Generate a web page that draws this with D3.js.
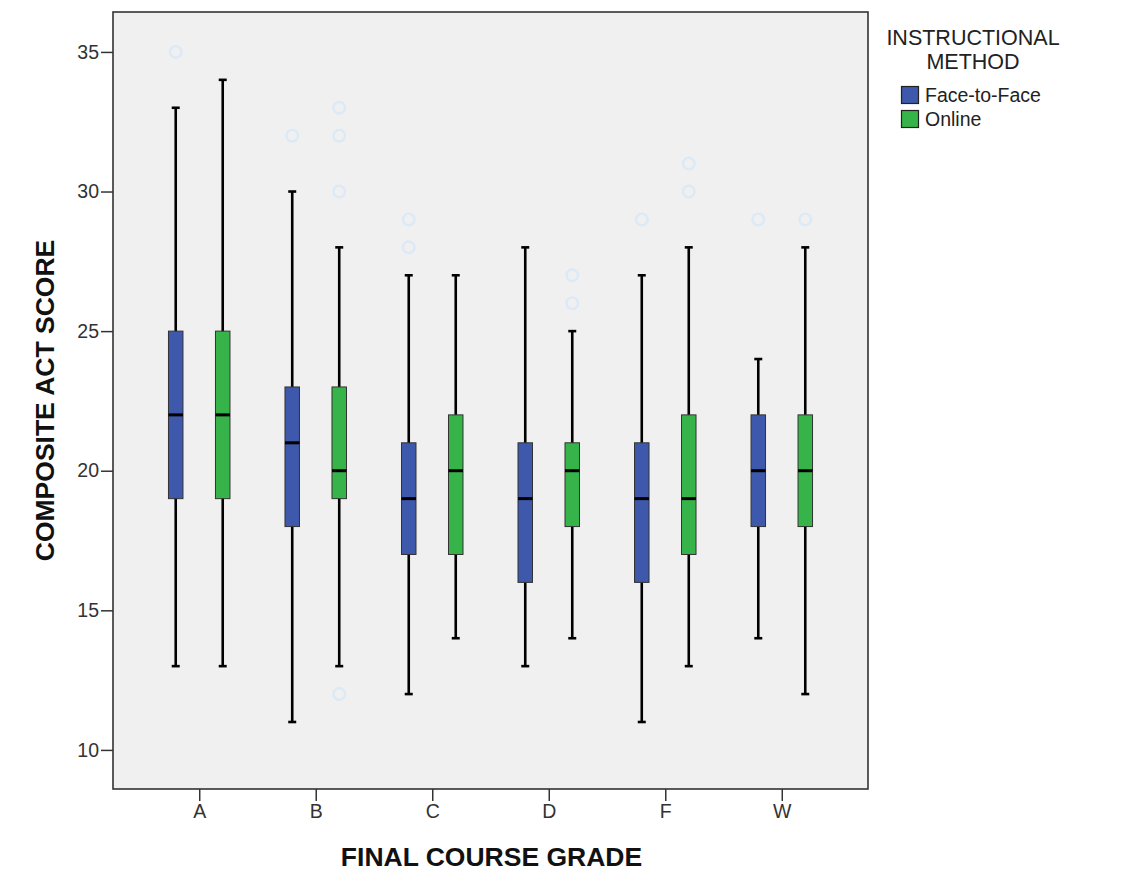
<!DOCTYPE html>
<html>
<head>
<meta charset="utf-8">
<script src="https://cdn.jsdelivr.net/npm/d3@7/dist/d3.min.js"></script>
<style>
  body { margin: 0; background: #fff; }
  svg { display: block; font-family: Arial, "Liberation Sans", sans-serif; }
</style>
</head>
<body>
<svg id="chart"></svg>
<script>
// categories and series
const grades = ['A', 'B', 'C', 'D', 'F', 'W'];
const methods = ['Face-to-Face', 'Online'];
const yTicks = [10, 15, 20, 25, 30, 35];

// [lower whisker, Q1, median, Q3, upper whisker]
const faceStats = [
  [13, 19, 22, 25, 33],
  [11, 18, 21, 23, 30],
  [12, 17, 19, 21, 27],
  [13, 16, 19, 21, 28],
  [11, 16, 19, 21, 27],
  [14, 18, 20, 22, 24]
];
const onlineStats = [
  [13, 19, 22, 25, 34],
  [13, 19, 20, 23, 28],
  [14, 17, 20, 22, 27],
  [14, 18, 20, 21, 25],
  [13, 17, 19, 22, 28],
  [12, 18, 20, 22, 28]
];
const faceOutliers = [[35], [32], [29, 28], [], [29], [29]];
const onlineOutliers = [[], [33, 32, 30, 12], [], [27, 26], [31, 30], [29]];

const colors = ['#3e58ac', '#36b44a'];

class BoxPlot {

  constructor(_config) {
    this.config = {
      parentElement: _config.parentElement,
      containerWidth: _config.containerWidth || 1142,
      containerHeight: _config.containerHeight || 891,
      margin: _config.margin || {top: 12, right: 274, bottom: 102, left: 113}
    }

    // build rows from the named arrays
    this.data = [];
    grades.forEach((g, i) => {
      this.data.push({grade: g, method: methods[0], stats: faceStats[i], outliers: faceOutliers[i]});
      this.data.push({grade: g, method: methods[1], stats: onlineStats[i], outliers: onlineOutliers[i]});
    });

    this.initVis();
  }

  initVis() {
    let vis = this;

    vis.width = vis.config.containerWidth - vis.config.margin.left - vis.config.margin.right;
    vis.height = vis.config.containerHeight - vis.config.margin.top - vis.config.margin.bottom;

    vis.svg = d3.select(vis.config.parentElement)
        .attr('width', vis.config.containerWidth)
        .attr('height', vis.config.containerHeight);

    vis.chart = vis.svg.append('g')
        .attr('transform', `translate(${vis.config.margin.left},${vis.config.margin.top})`);

    vis.xScale = d3.scalePoint()
        .domain(grades)
        .range([0, vis.width])
        .padding(0.74);

    vis.methodScale = d3.scaleBand()
        .domain(methods)
        .range([-47, 47]);

    vis.yScale = d3.scaleLinear()
        .domain([8.6, 36.43])
        .range([vis.height, 0]);

    vis.colorScale = d3.scaleOrdinal()
        .domain(methods)
        .range(colors);

    // plot background
    vis.chart.append('rect')
        .attr('width', vis.width)
        .attr('height', vis.height)
        .attr('fill', '#f0f0f0');

    vis.xAxis = d3.axisBottom(vis.xScale).tickSize(12).tickPadding(3);
    vis.yAxis = d3.axisLeft(vis.yScale).tickValues(yTicks).tickSize(12).tickPadding(2);

    vis.xAxisG = vis.chart.append('g')
        .attr('class', 'axis x-axis')
        .attr('transform', `translate(0,${vis.height})`);

    vis.yAxisG = vis.chart.append('g')
        .attr('class', 'axis y-axis');

    vis.chart.append('text')
        .attr('x', vis.width / 2 + 1)
        .attr('y', 854)
        .attr('font-size', '26.5px')
        .attr('font-weight', 'bold')
        .attr('text-anchor', 'middle')
        .attr('fill', '#111')
        .text('FINAL COURSE GRADE');

    vis.chart.append('text')
        .attr('transform', 'rotate(-90)')
        .attr('x', -vis.height / 2)
        .attr('y', -59)
        .attr('font-size', '26.5px')
        .attr('font-weight', 'bold')
        .attr('text-anchor', 'middle')
        .attr('fill', '#111')
        .text('COMPOSITE ACT SCORE');

    // legend
    vis.legend = vis.svg.append('g')
        .attr('transform', 'translate(973,0)');

    vis.legend.selectAll('.legend-title')
        .data(['INSTRUCTIONAL', 'METHOD'])
        .join('text')
        .attr('class', 'legend-title')
        .attr('x', 0)
        .attr('y', (d, i) => 45 + i * 24)
        .attr('text-anchor', 'middle')
        .attr('font-size', '21.5px')
        .attr('fill', '#222')
        .text(d => d);

    vis.legend.selectAll('.legend-swatch')
        .data(methods)
        .join('rect')
        .attr('class', 'legend-swatch')
        .attr('x', -71.5)
        .attr('y', (d, i) => 86.5 + i * 24)
        .attr('width', 17)
        .attr('height', 17)
        .attr('fill', d => vis.colorScale(d))
        .attr('stroke', '#222')
        .attr('stroke-width', 1.2);

    vis.legend.selectAll('.legend-label')
        .data(methods)
        .join('text')
        .attr('class', 'legend-label')
        .attr('x', -48)
        .attr('y', (d, i) => 102 + i * 24)
        .attr('font-size', '19.5px')
        .attr('fill', '#222')
        .text(d => d);

    vis.updateVis();
  }

  updateVis() {
    let vis = this;

    vis.xAxisG.call(vis.xAxis);
    vis.yAxisG.call(vis.yAxis);

    vis.chart.selectAll('.axis .domain').remove();
    vis.chart.selectAll('.axis line')
        .attr('stroke', '#333')
        .attr('stroke-width', 1.5);
    vis.chart.selectAll('.axis text')
        .attr('font-size', '19.5px')
        .attr('fill', '#333')
        .attr('font-family', 'Arial, "Liberation Sans", sans-serif');

    const cx = d => vis.xScale(d.grade) + vis.methodScale(d.method) + vis.methodScale.bandwidth() / 2;
    const boxW = 14.5;
    const capW = 8;

    const boxes = vis.chart.selectAll('.box')
        .data(vis.data)
        .join('g')
        .attr('class', 'box')
        .attr('transform', d => `translate(${cx(d)},0)`);

    // whiskers
    boxes.append('line')
        .attr('x1', 0).attr('x2', 0)
        .attr('y1', d => vis.yScale(d.stats[0]))
        .attr('y2', d => vis.yScale(d.stats[4]))
        .attr('stroke', '#000')
        .attr('stroke-width', 2.6);

    boxes.selectAll('.cap')
        .data(d => [d.stats[0], d.stats[4]])
        .join('line')
        .attr('class', 'cap')
        .attr('x1', -capW / 2).attr('x2', capW / 2)
        .attr('y1', v => vis.yScale(v))
        .attr('y2', v => vis.yScale(v))
        .attr('stroke', '#000')
        .attr('stroke-width', 2.6);

    boxes.append('rect')
        .attr('x', -boxW / 2)
        .attr('width', boxW)
        .attr('y', d => vis.yScale(d.stats[3]))
        .attr('height', d => vis.yScale(d.stats[1]) - vis.yScale(d.stats[3]))
        .attr('fill', d => vis.colorScale(d.method))
        .attr('stroke', '#333')
        .attr('stroke-width', 1);

    boxes.append('line')
        .attr('x1', -boxW / 2).attr('x2', boxW / 2)
        .attr('y1', d => vis.yScale(d.stats[2]))
        .attr('y2', d => vis.yScale(d.stats[2]))
        .attr('stroke', '#000')
        .attr('stroke-width', 3);

    boxes.selectAll('.outlier')
        .data(d => d.outliers)
        .join('circle')
        .attr('class', 'outlier')
        .attr('cx', 0)
        .attr('cy', v => vis.yScale(v))
        .attr('r', 5.8)
        .attr('fill', 'none')
        .attr('stroke', '#dce9f7')
        .attr('stroke-width', 2.4);

    // frame
    vis.chart.append('rect')
        .attr('width', vis.width)
        .attr('height', vis.height)
        .attr('fill', 'none')
        .attr('stroke', '#333')
        .attr('stroke-width', 1.6);
  }

}

new BoxPlot({parentElement: '#chart'});
</script>
</body>
</html>
